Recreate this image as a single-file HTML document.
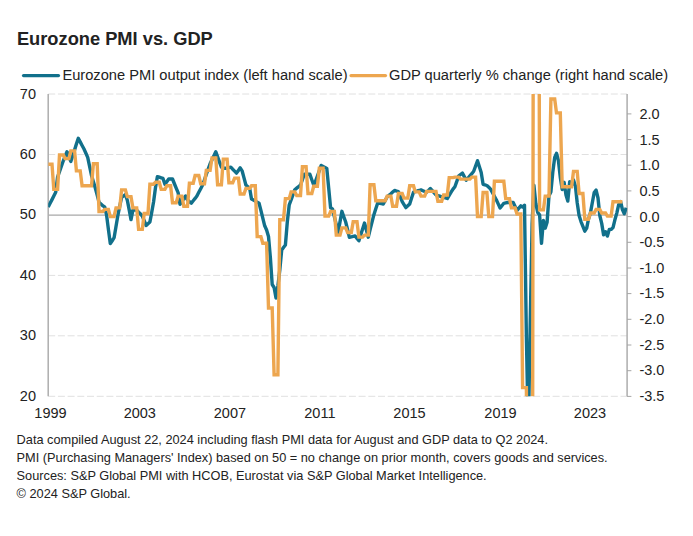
<!DOCTYPE html><html><head><meta charset="utf-8"><style>html,body{margin:0;padding:0;background:#fff;width:693px;height:536px;overflow:hidden}svg{display:block}text{font-family:"Liberation Sans",sans-serif;fill:#222}</style></head><body>
<svg width="693" height="536" viewBox="0 0 693 536">
<rect width="693" height="536" fill="#fff"/>
<text x="16.9" y="45.3" font-size="18.28" font-weight="bold" fill="#111">Eurozone PMI vs. GDP</text>
<line x1="23.5" y1="75.6" x2="58.5" y2="75.6" stroke="#11708b" stroke-width="3.2" stroke-linecap="round"/>
<text x="62.4" y="80.2" font-size="14.66">Eurozone PMI output index (left hand scale)</text>
<line x1="351" y1="75.6" x2="385.5" y2="75.6" stroke="#eda64f" stroke-width="3.2" stroke-linecap="round"/>
<text x="389" y="80.2" font-size="14.66">GDP quarterly % change (right hand scale)</text>
<line x1="48.2" y1="94.0" x2="627" y2="94.0" stroke="#e0e0e0" stroke-width="1" stroke-dasharray="7,2.7"/>
<line x1="48.2" y1="154.5" x2="627" y2="154.5" stroke="#e0e0e0" stroke-width="1" stroke-dasharray="7,2.7"/>
<line x1="48.2" y1="275.4" x2="627" y2="275.4" stroke="#e0e0e0" stroke-width="1" stroke-dasharray="7,2.7"/>
<line x1="48.2" y1="335.8" x2="627" y2="335.8" stroke="#e0e0e0" stroke-width="1" stroke-dasharray="7,2.7"/>
<line x1="48.2" y1="396.3" x2="627" y2="396.3" stroke="#e0e0e0" stroke-width="1" stroke-dasharray="7,2.7"/>
<line x1="48.2" y1="215.1" x2="627" y2="215.1" stroke="#a8a8a8" stroke-width="1.3"/>
<line x1="48.2" y1="94" x2="48.2" y2="396.3" stroke="#adadad" stroke-width="1.5"/>
<line x1="627.1" y1="94" x2="627.1" y2="396.3" stroke="#adadad" stroke-width="1.5"/>
<line x1="627" y1="113.9" x2="631.4" y2="113.9" stroke="#a6a6a6" stroke-width="1"/>
<text x="639.4" y="119.1" font-size="14.5">2.0</text>
<line x1="627" y1="139.6" x2="631.4" y2="139.6" stroke="#a6a6a6" stroke-width="1"/>
<text x="639.4" y="144.7" font-size="14.5">1.5</text>
<line x1="627" y1="165.2" x2="631.4" y2="165.2" stroke="#a6a6a6" stroke-width="1"/>
<text x="639.4" y="170.3" font-size="14.5">1.0</text>
<line x1="627" y1="190.9" x2="631.4" y2="190.9" stroke="#a6a6a6" stroke-width="1"/>
<text x="639.4" y="195.9" font-size="14.5">0.5</text>
<line x1="627" y1="216.6" x2="631.4" y2="216.6" stroke="#a6a6a6" stroke-width="1"/>
<text x="639.4" y="221.5" font-size="14.5">0.0</text>
<line x1="627" y1="242.3" x2="631.4" y2="242.3" stroke="#a6a6a6" stroke-width="1"/>
<text x="639.4" y="247.1" font-size="14.5">-0.5</text>
<line x1="627" y1="268.0" x2="631.4" y2="268.0" stroke="#a6a6a6" stroke-width="1"/>
<text x="639.4" y="272.7" font-size="14.5">-1.0</text>
<line x1="627" y1="293.6" x2="631.4" y2="293.6" stroke="#a6a6a6" stroke-width="1"/>
<text x="639.4" y="298.3" font-size="14.5">-1.5</text>
<line x1="627" y1="319.3" x2="631.4" y2="319.3" stroke="#a6a6a6" stroke-width="1"/>
<text x="639.4" y="323.9" font-size="14.5">-2.0</text>
<line x1="627" y1="345.0" x2="631.4" y2="345.0" stroke="#a6a6a6" stroke-width="1"/>
<text x="639.4" y="349.5" font-size="14.5">-2.5</text>
<line x1="627" y1="370.7" x2="631.4" y2="370.7" stroke="#a6a6a6" stroke-width="1"/>
<text x="639.4" y="375.1" font-size="14.5">-3.0</text>
<line x1="627" y1="396.4" x2="631.4" y2="396.4" stroke="#a6a6a6" stroke-width="1"/>
<text x="639.4" y="400.7" font-size="14.5">-3.5</text>
<text x="36" y="98.5" font-size="14.5" text-anchor="end">70</text>
<text x="36" y="159.0" font-size="14.5" text-anchor="end">60</text>
<text x="36" y="219.4" font-size="14.5" text-anchor="end">50</text>
<text x="36" y="279.9" font-size="14.5" text-anchor="end">40</text>
<text x="36" y="340.3" font-size="14.5" text-anchor="end">30</text>
<text x="36" y="400.8" font-size="14.5" text-anchor="end">20</text>
<text x="50.5" y="417.9" font-size="14.5" text-anchor="middle">1999</text>
<text x="139.8" y="417.9" font-size="14.5" text-anchor="middle">2003</text>
<text x="229.9" y="417.9" font-size="14.5" text-anchor="middle">2007</text>
<text x="319.9" y="417.9" font-size="14.5" text-anchor="middle">2011</text>
<text x="409.5" y="417.9" font-size="14.5" text-anchor="middle">2015</text>
<text x="500.5" y="417.9" font-size="14.5" text-anchor="middle">2019</text>
<text x="590.0" y="417.9" font-size="14.5" text-anchor="middle">2023</text>
<defs><clipPath id="pc"><rect x="48.2" y="94" width="579" height="302.3"/></clipPath></defs>
<polyline clip-path="url(#pc)" fill="none" stroke="#11708b" stroke-width="3.4" stroke-linejoin="round" points="48.2,207.0 50.1,203.3 52.0,199.6 53.8,195.9 55.7,192.2 57.6,177.0 59.5,171.6 61.4,166.2 63.3,160.8 65.1,156.3 67.0,151.7 68.9,156.6 70.8,161.5 72.7,155.7 74.6,149.9 76.4,144.1 78.3,138.3 80.2,141.9 82.1,145.5 84.0,149.0 85.9,153.2 87.7,157.4 89.6,166.4 91.5,175.5 93.4,181.7 95.3,188.0 97.2,195.1 99.0,202.2 100.9,204.0 102.8,205.8 104.7,206.9 106.6,215.2 108.4,229.4 110.3,243.6 112.2,240.7 114.1,237.7 116.0,226.5 117.9,215.2 119.7,206.3 121.6,197.5 123.5,196.0 125.4,194.5 127.3,200.2 129.2,209.9 131.0,219.6 132.9,210.1 134.8,210.1 136.7,210.1 138.6,212.1 140.5,214.0 142.3,216.0 144.2,220.7 146.1,225.5 148.0,223.7 149.9,222.0 151.8,211.9 153.6,201.8 155.5,187.5 157.4,176.6 159.3,177.2 161.2,177.8 163.0,178.4 164.9,184.3 166.8,181.7 168.7,179.0 170.6,179.0 172.5,179.0 174.3,183.5 176.2,188.1 178.1,192.6 180.0,204.3 181.9,201.6 183.8,198.8 185.6,196.0 187.5,200.0 189.4,201.6 191.3,203.1 193.2,200.7 195.1,198.4 196.9,196.0 198.8,192.3 200.7,188.7 202.6,185.0 204.5,179.7 206.3,174.4 208.2,169.0 210.1,163.7 212.0,159.7 213.9,155.8 215.8,151.8 217.6,156.9 219.5,162.1 221.4,167.2 223.3,167.8 225.2,168.4 227.1,168.0 228.9,167.6 230.8,167.2 232.7,169.2 234.6,171.1 236.5,173.1 238.4,170.4 240.2,167.8 242.1,170.8 244.0,177.9 245.9,185.0 247.8,186.7 249.7,188.5 251.5,199.0 253.4,200.0 255.3,201.1 257.2,202.2 259.1,203.3 260.9,210.4 262.8,218.1 264.7,225.8 266.6,230.0 268.5,236.5 270.4,258.0 272.2,284.5 274.1,287.5 276.0,298.0 277.9,286.0 279.8,270.0 281.7,250.0 283.5,247.5 285.4,245.0 287.3,222.0 289.2,205.0 291.1,199.9 293.0,194.7 294.8,189.7 296.7,188.1 298.6,186.6 300.5,185.0 302.4,179.7 304.3,174.3 306.1,174.3 308.0,174.3 309.9,174.3 311.8,179.7 313.7,185.0 315.5,181.4 317.4,176.0 319.3,170.7 321.2,165.4 323.1,166.4 325.0,167.4 326.8,168.4 328.7,188.1 330.6,207.8 332.5,208.9 334.4,216.8 336.3,224.7 338.1,232.6 340.0,221.9 341.9,211.3 343.8,216.7 345.7,222.0 347.6,229.7 349.4,237.3 351.3,236.9 353.2,236.4 355.1,236.0 357.0,238.4 358.9,240.8 360.7,234.9 362.6,228.9 364.5,223.0 366.4,230.1 368.3,237.2 370.1,229.7 372.0,222.2 373.9,214.7 375.8,208.8 377.7,202.9 379.6,203.3 381.4,203.6 383.3,204.0 385.2,200.5 387.1,197.0 389.0,195.3 390.9,193.7 392.7,192.1 394.6,190.4 396.5,191.0 398.4,191.6 400.3,196.7 402.2,201.7 404.0,204.6 405.9,207.6 407.8,205.8 409.7,204.0 411.6,198.1 413.5,192.2 415.3,191.6 417.2,191.0 419.1,190.5 421.0,189.9 422.9,190.7 424.7,191.5 426.6,192.2 428.5,190.4 430.4,188.5 432.3,190.7 434.2,192.9 436.0,195.0 437.9,195.6 439.8,196.2 441.7,196.8 443.6,197.3 445.5,197.9 447.3,198.5 449.2,195.4 451.1,192.2 453.0,189.1 454.9,186.7 456.8,181.4 458.6,176.0 460.5,174.5 462.4,173.1 464.3,176.6 466.2,180.2 468.1,178.0 469.9,175.9 471.8,173.7 473.7,171.3 475.6,166.0 477.5,160.7 479.3,166.6 481.2,172.5 483.1,184.3 485.0,184.9 486.9,185.5 488.8,187.3 490.6,189.1 492.5,192.6 494.4,196.2 496.3,199.7 498.2,203.9 500.1,208.0 501.9,205.7 503.8,203.3 505.7,202.9 507.6,202.5 509.5,202.5 511.4,202.5 513.2,202.5 515.1,206.5 517.0,210.5 518.9,208.1 520.8,205.8 522.6,207.1 524.5,205.2 526.4,337.7 528.3,435.0 530.2,324.4 532.1,224.0 533.9,185.3 535.8,203.4 537.7,212.5 539.6,214.9 541.5,243.3 543.4,220.4 545.2,228.2 547.1,222.2 549.0,195.6 550.9,191.9 552.8,172.0 554.7,157.5 556.5,153.3 558.4,160.5 560.3,177.4 562.2,189.5 564.1,182.3 566.0,195.0 567.8,201.0 569.7,181.7 571.6,185.3 573.5,179.9 575.4,185.9 577.2,202.8 579.1,215.5 581.0,221.6 582.9,226.4 584.8,231.2 586.7,228.2 588.5,219.2 590.4,213.1 592.3,202.8 594.2,192.5 596.1,190.1 598.0,198.0 599.8,215.5 601.7,223.4 603.6,234.9 605.5,231.8 607.4,236.1 609.3,229.4 611.1,229.4 613.0,227.6 614.9,219.8 616.8,213.1 618.7,204.6 620.6,201.6 622.4,209.5 624.3,213.7 626.2,207.7"/>
<polyline clip-path="url(#pc)" fill="none" stroke="#eda64f" stroke-width="3.4" stroke-linejoin="miter" stroke-miterlimit="3" points="48.2,164.2 50.1,164.2 52.0,164.2 53.8,189.4 55.7,189.4 57.6,189.4 59.5,155.0 61.4,155.0 63.3,155.0 65.1,158.6 67.0,158.6 68.9,158.6 70.8,150.9 72.7,150.9 74.6,150.9 76.4,170.9 78.3,170.9 80.2,170.9 82.1,185.8 84.0,185.8 85.9,185.8 87.7,185.8 89.6,185.8 91.5,185.8 93.4,163.7 95.3,163.7 97.2,163.7 99.0,211.5 100.9,211.5 102.8,211.5 104.7,209.4 106.6,209.4 108.4,209.4 110.3,216.6 112.2,216.6 114.1,216.6 116.0,207.9 117.9,207.9 119.7,207.9 121.6,189.9 123.5,189.9 125.4,189.9 127.3,196.6 129.2,196.6 131.0,196.6 132.9,207.9 134.8,207.9 136.7,207.9 138.6,229.4 140.5,229.4 142.3,229.4 144.2,213.5 146.1,213.5 148.0,213.5 149.9,184.2 151.8,184.2 153.6,184.2 155.5,182.2 157.4,182.2 159.3,182.2 161.2,189.4 163.0,189.4 164.9,189.4 166.8,185.8 168.7,185.8 170.6,185.8 172.5,202.7 174.3,202.7 176.2,202.7 178.1,196.1 180.0,196.1 181.9,196.1 183.8,206.3 185.6,206.3 187.5,206.3 189.4,183.2 191.3,183.2 193.2,183.2 195.1,175.5 196.9,175.5 198.8,175.5 200.7,183.7 202.6,183.7 204.5,183.7 206.3,170.4 208.2,170.4 210.1,170.4 212.0,158.0 213.9,158.0 215.8,158.0 217.6,184.8 219.5,184.8 221.4,184.8 223.3,159.1 225.2,159.1 227.1,159.1 228.9,182.7 230.8,182.7 232.7,182.7 234.6,178.1 236.5,178.1 238.4,178.1 240.2,194.0 242.1,194.0 244.0,194.0 245.9,188.4 247.8,188.4 249.7,188.4 251.5,185.8 253.4,185.8 255.3,185.8 257.2,236.6 259.1,236.6 260.9,236.6 262.8,243.3 264.7,243.3 266.6,243.3 268.5,308.0 270.4,308.0 272.2,308.0 274.1,374.8 276.0,374.8 277.9,374.8 279.8,219.7 281.7,219.7 283.5,219.7 285.4,198.6 287.3,198.6 289.2,198.6 291.1,191.9 293.0,191.9 294.8,191.9 296.7,195.5 298.6,195.5 300.5,195.5 302.4,166.8 304.3,166.8 306.1,166.8 308.0,193.5 309.9,193.5 311.8,193.5 313.7,186.3 315.5,186.3 317.4,186.3 319.3,168.3 321.2,168.3 323.1,168.3 325.0,216.1 326.8,216.1 328.7,216.1 330.6,211.5 332.5,211.5 334.4,211.5 336.3,235.1 338.1,235.1 340.0,235.1 341.9,227.9 343.8,227.9 345.7,227.9 347.6,232.5 349.4,232.5 351.3,232.5 353.2,221.7 355.1,221.7 357.0,221.7 358.9,237.1 360.7,237.1 362.6,237.1 364.5,235.1 366.4,235.1 368.3,235.1 370.1,184.8 372.0,184.8 373.9,184.8 375.8,200.7 377.7,200.7 379.6,200.7 381.4,200.7 383.3,200.7 385.2,200.7 387.1,196.1 389.0,196.1 390.9,196.1 392.7,206.3 394.6,206.3 396.5,206.3 398.4,193.5 400.3,193.5 402.2,193.5 404.0,198.1 405.9,198.1 407.8,198.1 409.7,185.8 411.6,185.8 413.5,185.8 415.3,191.9 417.2,191.9 419.1,191.9 421.0,196.1 422.9,196.1 424.7,196.1 426.6,191.4 428.5,191.4 430.4,191.4 432.3,191.4 434.2,191.4 436.0,191.4 437.9,201.2 439.8,201.2 441.7,201.2 443.6,195.0 445.5,195.0 447.3,195.0 449.2,177.6 451.1,177.6 453.0,177.6 454.9,177.1 456.8,177.1 458.6,177.1 460.5,179.1 462.4,179.1 464.3,179.1 466.2,179.1 468.1,179.1 469.9,179.1 471.8,177.1 473.7,177.1 475.6,177.1 477.5,216.6 479.3,216.6 481.2,216.6 483.1,192.5 485.0,192.5 486.9,192.5 488.8,216.6 490.6,216.6 492.5,216.6 494.4,181.2 496.3,181.2 498.2,181.2 500.1,181.2 501.9,181.2 503.8,181.2 505.7,198.6 507.6,198.6 509.5,198.6 511.4,207.9 513.2,207.9 515.1,207.9 517.0,214.0 518.9,214.0 520.8,214.0 522.6,387.6 524.5,387.6 526.4,387.6 528.3,807.2 530.2,807.2 532.1,807.2 533.9,-425.4 535.8,-425.4 537.7,-425.4 539.6,209.9 541.5,209.9 543.4,209.9 545.2,196.1 547.1,196.1 549.0,196.1 550.9,99.0 552.8,99.0 554.7,99.0 556.5,112.9 558.4,112.9 560.3,112.9 562.2,186.8 564.1,186.8 566.0,186.8 567.8,186.8 569.7,186.8 571.6,186.8 573.5,171.4 575.4,171.4 577.2,171.4 579.1,193.5 581.0,193.5 582.9,193.5 584.8,219.2 586.7,219.2 588.5,219.2 590.4,213.0 592.3,213.0 594.2,213.0 596.1,209.4 598.0,209.4 599.8,209.4 601.7,213.0 603.6,213.0 605.5,213.0 607.4,216.1 609.3,216.1 611.1,216.1 613.0,201.7 614.9,201.7 616.8,201.7 618.7,201.7 620.6,201.7 622.4,201.7"/>
<text x="16.6" y="443.5" font-size="12.75">Data compiled August 22, 2024 including flash PMI data for August and GDP data to Q2 2024.</text>
<text x="16.6" y="461.7" font-size="12.75">PMI (Purchasing Managers' Index) based on 50 = no change on prior month, covers goods and services.</text>
<text x="16.6" y="479.9" font-size="12.75">Sources: S&amp;P Global PMI with HCOB, Eurostat via S&amp;P Global Market Intelligence.</text>
<text x="16.6" y="498.1" font-size="12.75">© 2024 S&amp;P Global.</text>
</svg></body></html>
